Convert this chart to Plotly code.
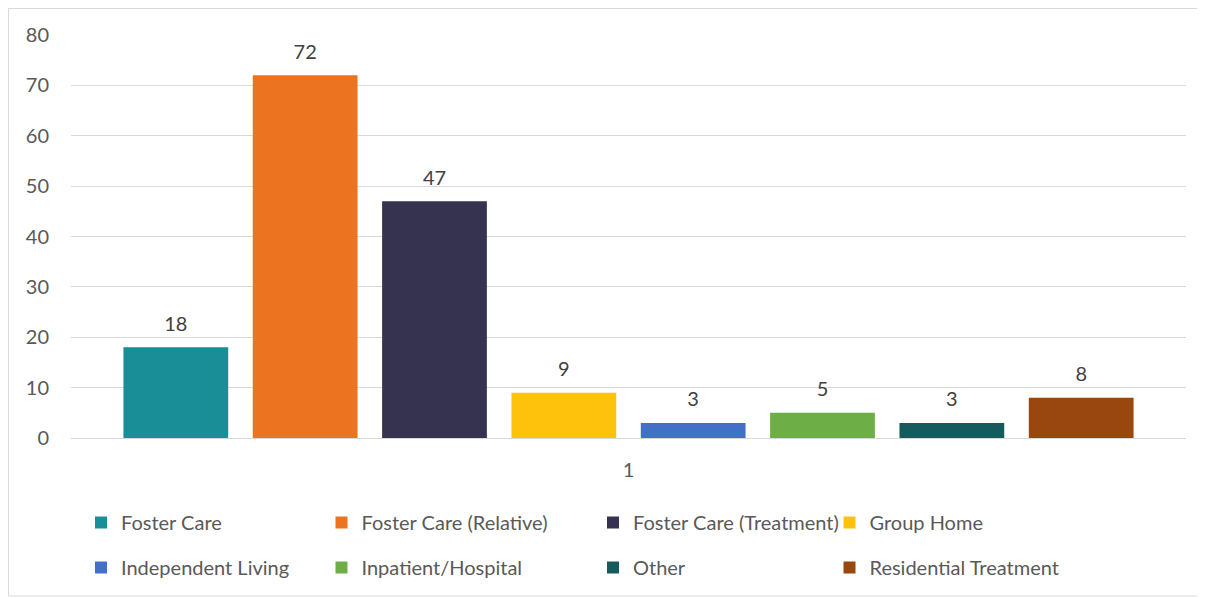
import plotly.graph_objects as go

categories = ["1"]
series_names = ["Foster Care", "Foster Care (Relative)", "Foster Care (Treatment)", "Group Home",
                "Independent Living", "Inpatient/Hospital", "Other", "Residential Treatment"]
series_values = [18, 72, 47, 9, 3, 5, 3, 8]
series_colors = ["#1A8E97", "#EC7420", "#35334F", "#FEC20D", "#4270C6", "#6EAE47", "#155A5D", "#9A460F"]
legend_ids = ["legend", "legend2", "legend3", "legend4", "legend", "legend2", "legend3", "legend4"]

FONT_FAMILY = "Lato"
FS = 20
fig = go.Figure()
for name, val, col, lg in zip(series_names, series_values, series_colors, legend_ids):
    fig.add_trace(go.Bar(
        x=categories, y=[val], name=name, legend=lg, legendgroup=name,
        marker=dict(color=col, line=dict(width=0)),
        text=[val],
        texttemplate="<span style='font-size:%dpx'>%%{y}</span><br> " % FS,
        textposition="outside",
        textfont=dict(family=FONT_FAMILY, size=9, color="#404040"),
        cliponaxis=False,
    ))

# page is offset by 8px (body margin); figure coordinates = page - 8
W, H = 1197, 590
left, right, top, bottom = 63, 1178, 27, 430
pw, ph = right - left, bottom - top

font = dict(family=FONT_FAMILY, size=FS, color="#595959")
leg_common = dict(orientation="v", xref="container", yref="container", xanchor="left", yanchor="top",
                  y=1 - 495 / H, font=font, tracegroupgap=16, itemwidth=30,
                  bgcolor="rgba(0,0,0,0)", borderwidth=0)

fig.update_layout(
    width=W, height=H,
    margin=dict(l=left, r=W - right, t=top, b=H - bottom, pad=0, autoexpand=False),
    paper_bgcolor="white", plot_bgcolor="white",
    barmode="group", bargap=0.072, bargroupgap=0.19,
    font=font,
    showlegend=True,
    legend=dict(leg_common, x=73 / W),
    legend2=dict(leg_common, x=313.5 / W),
    legend3=dict(leg_common, x=585 / W),
    legend4=dict(leg_common, x=821.5 / W),
    xaxis=dict(showgrid=False, showline=False, ticks="", tickfont=font, ticklabelstandoff=18),
    yaxis=dict(range=[0, 80], dtick=10, showgrid=True, gridcolor="#D9D9D9", gridwidth=1,
               zeroline=True, zerolinecolor="#D9D9D9", zerolinewidth=1, showline=False,
               tickfont=font, ticklabelstandoff=21),
    shapes=[dict(type="rect", xref="paper", yref="paper",
                 x0=(0.5 - left) / pw, x1=(1193 - left) / pw,
                 y0=(bottom - 588) / ph, y1=(bottom - 0.5) / ph,
                 line=dict(color="#D9D9D9", width=1), fillcolor="rgba(0,0,0,0)", layer="below")],
)

fig.write_html("out.html")
